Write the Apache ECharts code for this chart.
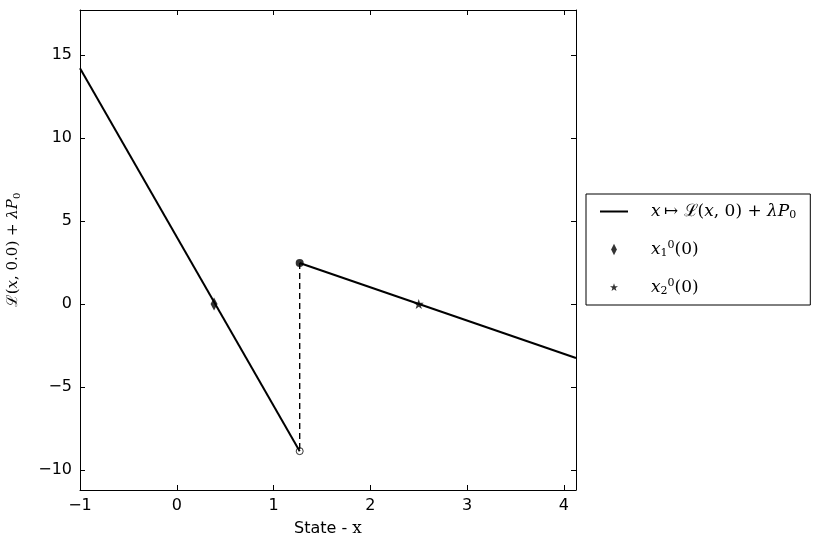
<!DOCTYPE html>
<html>
<head>
<meta charset="utf-8">
<script src="https://cdn.jsdelivr.net/npm/echarts@6/dist/echarts.min.js"></script>
<style>
  html, body { margin: 0; padding: 0; background: #fff; }
  #main { width: 820px; height: 548px; }
</style>
</head>
<body>
<div id="main"></div>
<script>
// x / y range of the axes
var xRange = [-1, 4.125];
var yRange = [-11.2, 17.7];
// tick labels
var xTicks = [-1, 0, 1, 2, 3, 4];
var yTicks = [-10, -5, 0, 5, 10, 15];
// left branch of the curve (before the jump)
var leftX = [-1, 1.27];
var leftY = [14.2, -8.86];
// right branch of the curve (after the jump)
var rightX = [1.27, 4.125];
var rightY = [2.47, -3.25];
// zeros of the curve
var x1Zero = [0.385, 0];
var x2Zero = [2.5, 0];

function pairs(xs, ys) {
  var out = [];
  for (var i = 0; i < xs.length; i++) out.push([xs[i], ys[i]]);
  return out;
}

var diamondPath = 'path://M0,-10 L6,0 L0,10 L-6,0 Z';
var starPath = 'path://M0,-10 L2.35,-3.24 L9.51,-3.09 L3.8,1.24 L5.88,8.09 L0,4 L-5.88,8.09 L-3.8,1.24 L-9.51,-3.09 L-2.35,-3.24 Z';
// legend icons get scaled to their bounding box, so pad them with empty moves
var diamondIcon = 'path://M-14,-14 M14,14 M0,-10 L5,0 L0,10 L-5,0 Z';
var starIcon = 'path://M-19,-19 M19,19 M0,-10 L2.35,-3.24 L9.51,-3.09 L3.8,1.24 L5.88,8.09 L0,4 L-5.88,8.09 L-3.8,1.24 L-9.51,-3.09 L-2.35,-3.24 Z';

var mathRich = {
  it: { fontFamily: 'DejaVu Serif', fontStyle: 'italic', fontSize: 17, color: '#000' },
  rm: { fontFamily: 'DejaVu Serif', fontSize: 17, color: '#000' },
  sub: { fontFamily: 'DejaVu Serif', fontSize: 11, color: '#000', verticalAlign: 'bottom', padding: [8, 0, 0, 0] },
  sup: { fontFamily: 'DejaVu Serif', fontSize: 11, color: '#000', verticalAlign: 'top', padding: [0, 0, 8, 0] },
  pad: { width: 18 }
};

var myChart = echarts.init(document.getElementById('main'));

var option = {
  animation: false,
  backgroundColor: '#fff',
  grid: { left: 80, top: 10, width: 496, height: 480, show: false, containLabel: false, outerBoundsMode: 'none' },
  legend: {
    orient: 'vertical',
    left: 586,
    top: 194,
    width: 224,
    padding: [9, 14, 8, 14],
    itemWidth: 28,
    itemHeight: 16,
    itemGap: 19,
    borderColor: '#000',
    borderWidth: 1,
    borderRadius: 0,
    backgroundColor: '#fff',
    data: [
      { name: 'curve', icon: 'path://M0,0 L28,0 L28,2 L0,2 Z' },
      { name: 'x1', icon: diamondIcon },
      { name: 'x2', icon: starIcon }
    ],
    formatter: function (name) {
      if (name === 'curve') {
        return '{pad|}{it|x} {rm|↦ ℒ(}{it|x}{rm|, 0) + }{it|λP}{sub|0}';
      }
      if (name === 'x1') {
        return '{pad|}{it|x}{sub|1}{sup|0}{rm|(0)}';
      }
      return '{pad|}{it|x}{sub|2}{sup|0}{rm|(0)}';
    },
    textStyle: { rich: mathRich }
  },
  xAxis: [
    {
      type: 'value', min: xRange[0], max: xRange[1], position: 'bottom',
      name: '{s|State - }{x|x}', nameLocation: 'middle', nameGap: 30,
      nameTextStyle: { rich: {
        s: { fontFamily: 'DejaVu Sans', fontSize: 16, color: '#000' },
        x: { fontFamily: 'DejaVu Serif', fontSize: 17, color: '#000' }
      } },
      axisLine: { show: true, onZero: false, lineStyle: { color: '#000', width: 1 } },
      axisTick: { show: true, inside: true, length: 5, customValues: xTicks, lineStyle: { color: '#000' } },
      axisLabel: { customValues: xTicks, color: '#000', fontFamily: 'DejaVu Sans', fontSize: 16, margin: 8,
        formatter: function (v) { return String(v).replace('-', '\u2212'); } },
      splitLine: { show: false }
    },
    {
      type: 'value', min: xRange[0], max: xRange[1], position: 'top',
      axisLine: { show: true, onZero: false, lineStyle: { color: '#000', width: 1 } },
      axisTick: { show: true, inside: true, length: 5, customValues: xTicks, lineStyle: { color: '#000' } },
      axisLabel: { show: false },
      splitLine: { show: false }
    }
  ],
  yAxis: [
    {
      type: 'value', min: yRange[0], max: yRange[1], position: 'left',
      name: '{l|ℒ(}{it|x}{l|, 0.0) + }{it|λP}{sub|0}', nameLocation: 'middle', nameRotate: 90, nameGap: 58,
      nameTextStyle: { rich: {
        l: { fontFamily: 'DejaVu Serif', fontSize: 15, color: '#000' },
        it: { fontFamily: 'DejaVu Serif', fontStyle: 'italic', fontSize: 15, color: '#000' },
        sub: { fontFamily: 'DejaVu Serif', fontSize: 10, color: '#000', verticalAlign: 'bottom', padding: [7, 0, 0, 0] }
      } },
      axisLine: { show: true, onZero: false, lineStyle: { color: '#000', width: 1 } },
      axisTick: { show: true, inside: true, length: 5, customValues: yTicks, lineStyle: { color: '#000' } },
      axisLabel: { customValues: yTicks, color: '#000', fontFamily: 'DejaVu Sans', fontSize: 16, margin: 8,
        formatter: function (v) { return String(v).replace('-', '\u2212'); } },
      splitLine: { show: false }
    },
    {
      type: 'value', min: yRange[0], max: yRange[1], position: 'right',
      axisLine: { show: true, onZero: false, lineStyle: { color: '#000', width: 1 } },
      axisTick: { show: true, inside: true, length: 5, customValues: yTicks, lineStyle: { color: '#000' } },
      axisLabel: { show: false },
      splitLine: { show: false }
    }
  ],
  series: [
    {
      name: 'curve', type: 'line', showSymbol: false, symbol: 'none',
      data: pairs(leftX, leftY),
      lineStyle: { color: '#000', width: 2 }, itemStyle: { color: '#000' }
    },
    {
      name: 'curve', type: 'line', showSymbol: false, symbol: 'none',
      data: pairs(rightX, rightY),
      lineStyle: { color: '#000', width: 2 }, itemStyle: { color: '#000' }
    },
    {
      name: 'jump', type: 'line', showSymbol: false, symbol: 'none',
      data: [[rightX[0], rightY[0]], [leftX[1], leftY[1]]],
      lineStyle: { color: '#000', width: 1.4, type: [6, 4] }
    },
    {
      name: 'closed', type: 'scatter', symbol: 'circle', symbolSize: 8,
      data: [[rightX[0], rightY[0]]],
      itemStyle: { color: '#000' }
    },
    {
      name: 'open', type: 'scatter', symbol: 'circle', symbolSize: 7,
      data: [[leftX[1], leftY[1]]],
      itemStyle: { color: '#fff', borderColor: '#000', borderWidth: 1 }
    },
    {
      name: 'x1', type: 'scatter', symbol: diamondPath, symbolSize: [7, 13], symbolKeepAspect: false,
      data: [x1Zero],
      itemStyle: { color: '#000' }
    },
    {
      name: 'x2', type: 'scatter', symbol: starPath, symbolSize: 10,
      data: [x2Zero],
      itemStyle: { color: '#000' }
    }
  ]
};

myChart.setOption(option);
</script>
</body>
</html>
